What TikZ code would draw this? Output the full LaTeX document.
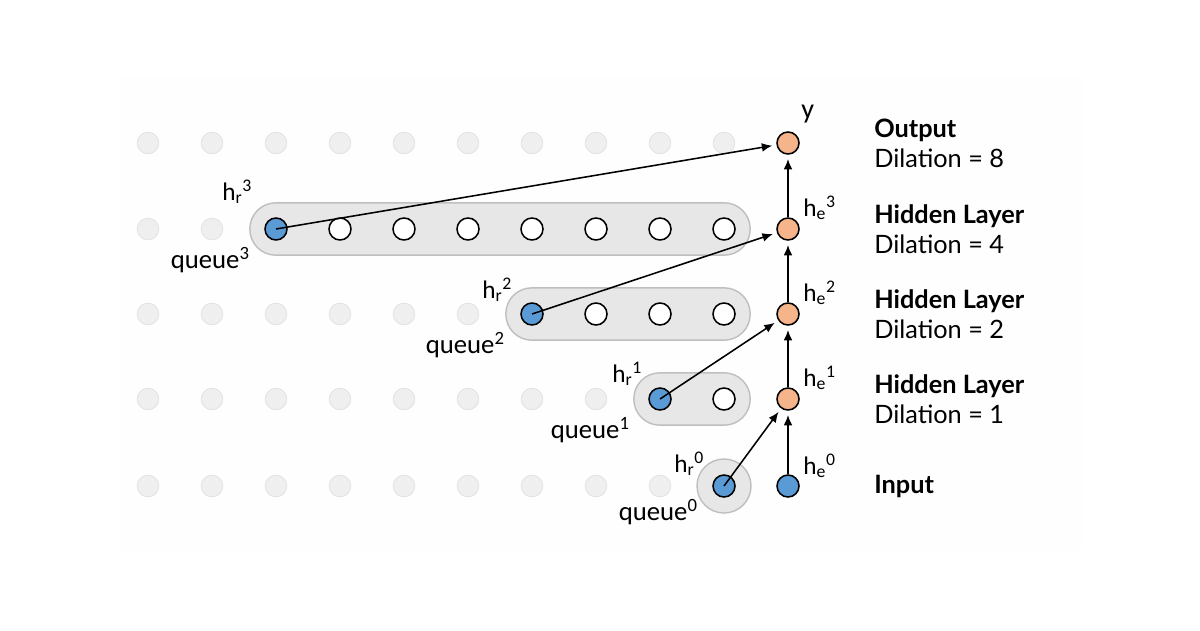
\documentclass[tikz,border=0pt]{standalone}
\usepackage{fontspec}
\setmainfont{Lato}
\newfontfamily\labelfont{Carlito}
\usetikzlibrary{arrows.meta,fit,backgrounds,positioning}
\definecolor{nodeblue}{HTML}{5B9BD5}
\definecolor{nodeorange}{HTML}{F5B48A}
\definecolor{fadefill}{HTML}{EFEFEF}
\definecolor{fadeline}{HTML}{E3E3E3}
\definecolor{queuefill}{HTML}{E7E7E7}
\definecolor{queueline}{HTML}{BFBFBF}
\definecolor{panel}{HTML}{FEFEFE}

\tikzset{
  unit/.style={circle, draw=black, line width=1.1pt, minimum size=0.55cm, inner sep=0pt},
  faded/.style={circle, fill=fadefill, draw=fadeline, line width=0.6pt, minimum size=0.54cm, inner sep=0pt},
  queue/.style={draw=queueline, fill=queuefill, line width=1pt, rounded corners=0.65cm, inner sep=0.36cm},
  conn/.style={-{Latex[length=0.26cm,width=0.22cm]}, line width=1.1pt, shorten >=3pt},
  hlabel/.style={font=\labelfont\fontsize{18}{21}\selectfont, inner sep=0pt},
  qlabel/.style={font=\labelfont\fontsize{19}{22}\selectfont, inner sep=0pt, anchor=base east},
  layer/.style={font=\fontsize{18}{21.5}\selectfont, align=left, anchor=west, inner sep=0pt}
}

\begin{document}
\begin{tikzpicture}[x=0.025cm, y=-0.025cm]
	\useasboundingbox (0,0) rectangle (1200,630);
	\begin{scope}[on background layer]
		\fill[panel] (120,77) rectangle (1082,550);
	\end{scope}

	% faded grid
	\foreach \i in {0,...,9} \node[faded] at (148+64*\i,143) {};
	\foreach \i in {0,1} \node[faded] at (148+64*\i,229) {};
	\foreach \i in {0,...,5} \node[faded] at (148+64*\i,314) {};
	\foreach \i in {0,...,7} \node[faded] at (148+64*\i,399) {};
	\foreach \i in {0,...,8} \node[faded] at (148+64*\i,486) {};

	% input
	\node[unit, fill=nodeblue] (hr0) at (724,486) {};
	\node[unit, fill=nodeblue] (he0) at (788,486) {};

	% dilation 1
	\node[unit, fill=nodeblue] (hr1) at (660,399) {};
	\node[unit, fill=white] (q11) at (724,399) {};
	\node[unit, fill=nodeorange] (he1) at (788,399) {};

	% dilation 2
	\node[unit, fill=nodeblue] (hr2) at (532,314) {};
	\foreach \x [count=\k] in {596,660,724} \node[unit, fill=white] (q2\k) at (\x,314) {};
	\node[unit, fill=nodeorange] (he2) at (788,314) {};

	% dilation 4
	\node[unit, fill=nodeblue] (hr3) at (276,229) {};
	\foreach \x [count=\k] in {340,404,...,724} \node[unit, fill=white] (q3\k) at (\x,229) {};
	\node[unit, fill=nodeorange] (he3) at (788,229) {};

	% output
	\node[unit, fill=nodeorange] (y) at (788,143) {};

	\begin{scope}[on background layer]
		\node[queue, circle, minimum size=1.35cm, inner sep=0pt] (queue0) at (hr0) {};
		\node[queue, fit=(hr1)(q11)] (queue1) {};
		\node[queue, fit=(hr2)(q23)] (queue2) {};
		\node[queue, fit=(hr3)(q37)] (queue3) {};
	\end{scope}

	\draw[conn] (hr3.center) -- (y);
	\draw[conn] (hr2.center) -- (he3);
	\draw[conn] (hr1.center) -- (he2);
	\draw[conn] (hr0.center) -- (he1);
	\draw[conn] (he0) -- (he1);
	\draw[conn] (he1) -- (he2);
	\draw[conn] (he2) -- (he3);
	\draw[conn] (he3) -- (y);

	\node[hlabel, anchor=base west, font=\labelfont\fontsize{20}{22}\selectfont] (ylab) at (801,119) {y};
	\node[hlabel, anchor=base west] (lhe3) at (803,216) {h\textsubscript{e}\textsuperscript{3}};
	\node[hlabel, anchor=base west] (lhe2) at (803,301) {h\textsubscript{e}\textsuperscript{2}};
	\node[hlabel, anchor=base west] (lhe1) at (803,386) {h\textsubscript{e}\textsuperscript{1}};
	\node[hlabel, anchor=base west] (lhe0) at (803,474) {h\textsubscript{e}\textsuperscript{0}};
	\node[hlabel, anchor=base west] (lhr3) at (222,200) {h\textsubscript{r}\textsuperscript{3}};
	\node[hlabel, anchor=base west] (lhr2) at (482,298) {h\textsubscript{r}\textsuperscript{2}};
	\node[hlabel, anchor=base west] (lhr1) at (612,382) {h\textsubscript{r}\textsuperscript{1}};
	\node[hlabel, anchor=base west] (lhr0) at (674,472) {h\textsubscript{r}\textsuperscript{0}};

	\node[qlabel] (lq3) at (250,268) {queue\textsuperscript{3}};
	\node[qlabel] (lq2) at (505,353) {queue\textsuperscript{2}};
	\node[qlabel] (lq1) at (630,438) {queue\textsuperscript{1}};
	\node[qlabel] (lq0) at (698,520) {queue\textsuperscript{0}};

	\node[layer] (lout) at (874,143) {\textbf{Output}\\Dilation = 8};
	\node[layer] (lhid3) at (874,229) {\textbf{Hidden Layer}\\Dilation = 4};
	\node[layer] (lhid2) at (874,314) {\textbf{Hidden Layer}\\Dilation = 2};
	\node[layer] (lhid1) at (874,399) {\textbf{Hidden Layer}\\Dilation = 1};
	\node[layer] (lin) at (874,486) {\textbf{Input}};
\end{tikzpicture}
\end{document}
